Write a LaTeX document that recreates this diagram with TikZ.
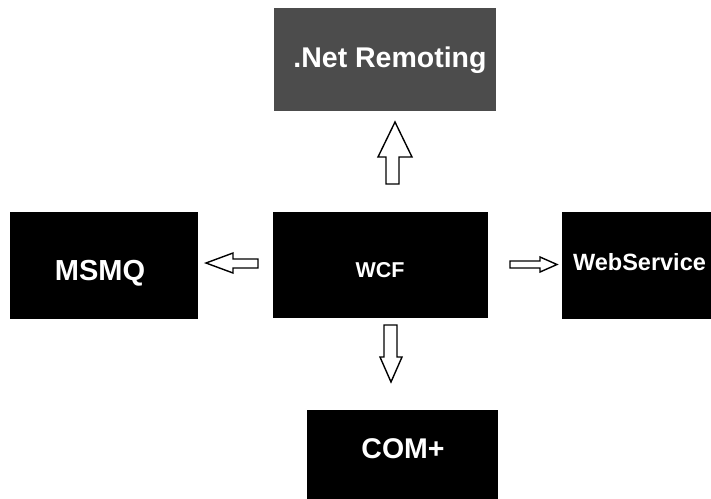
\documentclass[tikz,border=0pt]{standalone}
\usepackage{fontspec}
\setmainfont{Liberation Sans}
\begin{document}
\begin{tikzpicture}[x=1pt,y=-1pt,
  box/.style={fill=black, draw=none, inner sep=0pt},
  graybox/.style={box, fill=black!70},
  txt/.style={text=white, inner sep=0pt, anchor=base},
  blockarr/.style={draw=black, fill=white, line width=1.4pt, line join=miter}]
\useasboundingbox (0,0) rectangle (711,498);
\clip (0,0) rectangle (711,498);
% boxes
\node[graybox, minimum width=222pt, minimum height=103pt] (net) at (385,59.5) {};
\node[box, minimum width=188pt, minimum height=107pt] (msmq) at (104,265.5) {};
\node[box, minimum width=215pt, minimum height=106pt] (wcf) at (380.5,265) {};
\node[box, minimum width=158pt, minimum height=107pt] (ws) at (641,265.5) {};
\node[box, minimum width=191pt, minimum height=92pt] (com) at (402.5,456) {};
% texts
\node[txt, font=\bfseries\fontsize{28.5}{30}\selectfont] (nett) at (390,67) {.Net Remoting};
\node[txt, font=\bfseries\fontsize{29}{30}\selectfont] (msmqt) at (100,280) {MSMQ};
\node[txt, font=\bfseries\fontsize{21.5}{23}\selectfont] (wcft) at (380,277) {WCF};
\node[txt, font=\bfseries\fontsize{23.5}{25}\selectfont] (wst) at (639.5,270) {WebService};
\node[txt, font=\bfseries\fontsize{28.5}{30}\selectfont] (comt) at (403,458) {COM+};
% block arrows
\draw[blockarr] (395,122) -- (412,157) -- (399,157) -- (399,184) -- (386,184) -- (386,157) -- (378,157) -- cycle;
\draw[blockarr] (206,263) -- (233,253) -- (233,259) -- (258,259) -- (258,268) -- (233,268) -- (233,273) -- cycle;
\draw[blockarr] (557,264.5) -- (540,257) -- (540,261) -- (510,261) -- (510,268) -- (540,268) -- (540,272) -- cycle;
\draw[blockarr] (391,382) -- (380,357) -- (384,357) -- (384,325) -- (397,325) -- (397,357) -- (402,357) -- cycle;
\end{tikzpicture}
\end{document}
